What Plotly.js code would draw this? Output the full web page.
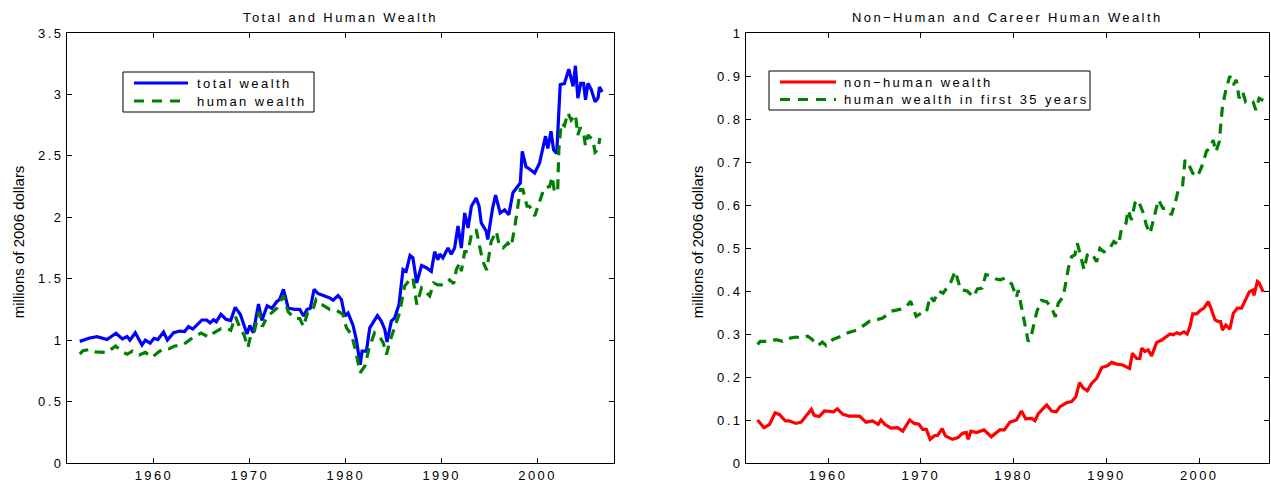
<!DOCTYPE html>
<html>
<head>
<meta charset="utf-8">
<script src="https://cdn.plot.ly/plotly-3.0.1.min.js"></script>
<style>
  html, body { margin: 0; padding: 0; background: #fff; }
  #chart { width: 1271px; height: 483px; }
  svg text { letter-spacing: 2.4px; }
  svg text.nospace { letter-spacing: 0px; }
</style>
</head>
<body>
<div id="chart"></div>
<script>
// ---- Left panel: total wealth ----
const totalYears = [1952.26,1953.2,1954.06,1955.1,1956.04,1956.7,1957.2,1957.5,1958.05,1958.75,
1959.1,1959.6,1960.0,1960.4,1961.0,1961.4,1962.05,1962.7,1963.2,1963.6,
1964.05,1965.0,1965.5,1965.85,1966.2,1966.5,1966.98,1967.5,1968.0,1968.47,
1969.0,1969.35,1969.7,1970.0,1970.35,1970.9,1971.25,1971.8,1972.3,1972.8,
1973.1,1973.5,1974.0,1974.7,1975.2,1975.6,1975.95,1976.3,1976.7,1977.1,1977.7,
1978.33,1978.68,1979.2,1979.55,1979.9,1980.24,1980.76,1981.1,1981.5,1981.7,
1982.15,1982.5,1982.85,1983.3,1983.7,1984.06,1984.3,1984.75,1985.1,1985.55,
1985.97,1986.3,1986.7,1987.0,1987.4,1987.9,1988.4,1988.92,1989.27,1989.6,
1989.8,1990.13,1990.66,1991.0,1991.35,1991.7,1992.05,1992.4,1992.75,1993.1,
1993.6,1993.9,1994.13,1994.65,1994.8,1995.3,1995.62,1996.1,1996.56,1997.0,
1997.43,1997.85,1998.2,1998.4,1998.8,1999.16,1999.7,2000.2,2000.83,2001.07,
2001.4,2001.67,2002.0,2002.36,2002.8,2003.26,2003.7,2003.95,2004.2,2004.5,
2004.8,2005.0,2005.25,2005.6,2006.0,2006.3,2006.46,2006.74];
const totalWealth = [0.99,1.015,1.028,1.005,1.056,1.01,1.03,1.0,1.06,0.96,
1.0,0.975,1.015,1.005,1.066,1.0,1.06,1.074,1.07,1.11,
1.09,1.164,1.164,1.14,1.165,1.15,1.21,1.17,1.16,1.267,
1.21,1.137,1.05,1.12,1.06,1.294,1.16,1.28,1.26,1.313,
1.33,1.414,1.26,1.25,1.25,1.196,1.25,1.26,1.414,1.38,1.36,
1.344,1.325,1.363,1.33,1.195,1.22,1.12,1.005,0.80,0.91,
0.91,1.10,1.14,1.20,1.155,1.09,0.985,1.155,1.18,1.29,
1.575,1.56,1.69,1.67,1.466,1.607,1.59,1.56,1.72,1.655,
1.70,1.67,1.75,1.70,1.75,1.93,1.75,2.035,1.913,2.09,
2.157,2.09,1.954,1.886,1.82,2.07,2.18,2.035,2.06,2.02,
2.20,2.25,2.28,2.537,2.41,2.393,2.36,2.44,2.66,2.56,
2.70,2.55,2.52,3.08,3.09,3.206,3.065,3.233,2.97,3.09,
3.09,2.957,3.09,3.04,2.94,2.97,3.06,3.02];

// ---- Left panel: human wealth ----
const humanYears = [1952.26,1952.6,1953.35,1953.9,1955.1,1956.0,1956.7,1957.2,1957.75,1958.45,
1959.1,1959.8,1960.5,1961.0,1961.6,1962.1,1963.1,1964.0,1964.9,1965.7,
1966.2,1967.0,1967.6,1968.0,1968.5,1969.0,1969.4,1969.8,1970.1,1970.4,
1970.95,1971.3,1971.8,1972.8,1973.5,1974.0,1974.7,1975.2,1975.6,1976.0,
1976.5,1976.9,1977.3,1977.85,
1978.33,1979.0,1979.7,1980.07,1980.6,1981.04,1981.5,1982.0,1982.4,1983.0,
1983.5,1983.9,1984.24,1984.6,1985.3,1985.6,1986.14,1986.66,1987.0,1987.4,
1987.9,1988.75,1989.17,1989.6,1990.3,1990.83,1991.25,1991.53,1991.9,1992.05,
1992.4,1992.75,1993.1,1993.6,1993.96,1994.3,1994.7,1995.17,1995.7,1996.04,
1996.4,1996.9,1997.25,1997.6,1998.2,1998.47,1998.9,1999.16,1999.7,2000.2,
2000.7,2001.25,2001.53,2001.77,2002.1,2002.22,2002.46,2002.8,2003.16,2003.5,
2003.95,2004.2,2004.45,2004.8,2005.0,2005.25,2005.76,2006.0,2006.3,2006.5];
const humanWealth = [0.887,0.914,0.925,0.905,0.90,0.952,0.905,0.885,0.91,0.88,
0.90,0.86,0.905,0.93,0.93,0.95,0.966,1.018,1.058,1.025,
1.058,1.094,1.094,1.08,1.19,1.094,1.04,0.94,1.04,1.05,
1.23,1.11,1.19,1.26,1.36,1.23,1.176,1.176,1.11,1.22,
1.23,1.33,1.30,1.27,
1.25,1.244,1.21,1.10,1.046,0.91,0.735,0.79,0.924,1.06,
1.03,0.98,0.883,0.99,1.14,1.22,1.44,1.49,1.51,1.29,
1.425,1.36,1.466,1.45,1.45,1.49,1.46,1.575,1.63,1.56,
1.72,1.72,1.86,1.90,1.76,1.64,1.57,1.805,1.886,1.76,
1.75,1.79,1.76,1.91,2.225,2.225,2.09,2.09,2.01,2.12,
2.24,2.25,2.33,2.20,2.225,2.55,2.767,2.745,2.85,2.79,
2.835,2.67,2.73,2.685,2.58,2.67,2.63,2.53,2.55,2.645];

// ---- Right panel: non-human wealth ----
const nonHumanYears = [1952.4,1953.1,1953.7,1954.3,1954.75,1955.4,1955.8,1956.55,1957.1,1957.6,
1958.2,1958.5,1959.06,1959.6,1960.14,1960.6,1961.0,1961.6,1962.3,1963.4,
1964.1,1964.8,1965.4,1965.7,1966.1,1966.8,1967.5,1968.05,1968.8,1969.3,
1969.8,1970.2,1970.6,1971.0,1971.5,1971.8,1972.3,1972.65,1973.4,1974.0,
1974.5,1974.9,1975.1,1975.4,1976.0,1976.8,1977.6,1978.5,1979.0,1979.6,
1980.3,1980.85,1981.3,
1981.94,1982.3,1982.66,1983.56,1984.1,1984.6,1985.0,1985.7,1986.25,1986.7,
1987.1,1987.5,1987.94,1988.4,1988.95,1989.5,1990.1,1990.56,1991.1,1991.75,
1992.2,1992.5,1992.8,1993.25,1993.6,1993.8,1994.15,1994.5,1994.87,1995.4,
1995.95,1996.5,1996.85,1997.2,1997.57,1997.93,1998.36,1998.7,1999.0,1999.3,
1999.73,2000.08,2000.5,2000.97,2001.2,2001.7,2002.05,2002.3,2002.5,2002.87,
2003.3,2003.67,2004.1,2004.56,2005.0,2005.4,2005.75,2005.9,2006.27,2006.45,2006.9];
const nonHumanWealth = [0.10,0.082,0.09,0.117,0.113,0.098,0.098,0.092,0.095,0.109,
0.125,0.111,0.108,0.121,0.119,0.119,0.126,0.113,0.109,0.109,
0.095,0.098,0.09,0.10,0.09,0.081,0.082,0.074,0.10,0.092,
0.09,0.078,0.078,0.055,0.064,0.064,0.08,0.063,0.055,0.059,
0.069,0.071,0.055,0.074,0.071,0.077,0.061,0.077,0.077,0.095,
0.10,0.121,0.103,
0.104,0.098,0.115,0.135,0.121,0.119,0.131,0.14,0.143,0.154,
0.187,0.174,0.168,0.185,0.197,0.222,0.226,0.234,0.23,0.228,
0.222,0.22,0.255,0.243,0.243,0.267,0.259,0.263,0.249,0.28,
0.286,0.294,0.30,0.298,0.303,0.30,0.305,0.30,0.317,0.347,
0.347,0.354,0.36,0.375,0.364,0.333,0.329,0.329,0.309,0.321,
0.311,0.348,0.36,0.36,0.379,0.398,0.402,0.39,0.422,0.419,0.398];

// ---- Right panel: human wealth in first 35 years ----
const careerYears = [1952.4,1952.7,1953.7,1954.4,1955.1,1955.6,1956.55,1957.1,1957.8,1958.2,
1958.9,1959.4,1959.8,1960.5,1961.2,1961.9,1963.2,1964.5,1965.4,1965.9,
1966.8,1967.9,1968.45,1968.9,1969.5,1970.1,1970.6,1971.0,1971.4,1971.9,
1972.4,1973.2,1973.7,1974.3,1975.0,1975.65,1976.1,1976.6,1977.0,1977.5,1978.1,
1978.53,1979.07,1979.8,1980.3,1980.5,1980.87,1981.2,1981.58,1981.94,1982.5,
1983.0,1983.56,1984.1,1984.5,1984.8,1985.35,1985.9,1986.25,1986.6,1986.86,
1987.15,1987.58,1987.94,1988.4,1988.95,1989.3,1989.74,1990.3,1990.8,1991.3,
1991.6,1992.1,1992.35,1992.7,1993.07,1993.4,1994.0,1994.3,1994.7,1995.1,
1995.6,1996.1,1996.5,1997.0,1997.4,1997.75,1998.2,1998.47,1998.93,1999.3,
1999.8,2000.27,2000.8,2001.2,2001.5,2001.8,2002.16,2002.5,2002.87,2003.3,
2003.67,2004.0,2004.3,2004.67,2005.0,2005.4,2005.8,2006.1,2006.45,2006.9];
const careerWealth = [0.276,0.283,0.283,0.287,0.283,0.289,0.293,0.291,0.295,0.289,
0.273,0.281,0.273,0.287,0.293,0.301,0.31,0.33,0.334,0.337,
0.353,0.358,0.364,0.376,0.341,0.349,0.35,0.388,0.376,0.40,
0.395,0.419,0.446,0.403,0.40,0.386,0.405,0.407,0.438,0.436,0.428,
0.426,0.43,0.416,0.385,0.402,0.36,0.325,0.282,0.30,0.352,
0.378,0.375,0.36,0.34,0.371,0.387,0.453,0.48,0.484,0.511,
0.488,0.45,0.484,0.488,0.468,0.499,0.491,0.497,0.515,0.507,
0.542,0.557,0.588,0.565,0.604,0.612,0.58,0.553,0.534,0.569,
0.612,0.592,0.592,0.577,0.604,0.635,0.643,0.705,0.691,0.674,
0.666,0.689,0.726,0.732,0.751,0.724,0.747,0.829,0.867,0.90,
0.879,0.891,0.848,0.864,0.84,0.844,0.84,0.821,0.848,0.843];

const titles = ['Total and Human Wealth', 'Non\u2212Human and Career Human Wealth'];
const yLabel = 'millions of 2006 dollars';
const seriesNames = ['total wealth', 'human wealth', 'non\u2212human wealth', 'human wealth in first 35 years'];
const seriesColors = ['#0000ff', '#008000', '#ff0000', '#008000'];
const seriesDash = ['solid', '10px,7px', 'solid', '10px,7px'];

const W = 1271, H = 483;
const px = v => v / W, py = v => 1 - v / H;
const LW = 3.2;

const traces = [
  {x: totalYears, y: totalWealth, name: seriesNames[0], type: 'scatter', mode: 'lines',
   line: {color: seriesColors[0], width: LW, dash: seriesDash[0]}, xaxis: 'x', yaxis: 'y'},
  {x: humanYears, y: humanWealth, name: seriesNames[1], type: 'scatter', mode: 'lines',
   line: {color: seriesColors[1], width: LW, dash: seriesDash[1]}, xaxis: 'x', yaxis: 'y'},
  {x: nonHumanYears, y: nonHumanWealth, name: seriesNames[2], type: 'scatter', mode: 'lines',
   line: {color: seriesColors[2], width: LW, dash: seriesDash[2]}, xaxis: 'x2', yaxis: 'y2'},
  {x: careerYears, y: careerWealth, name: seriesNames[3], type: 'scatter', mode: 'lines',
   line: {color: seriesColors[3], width: LW, dash: seriesDash[3]}, xaxis: 'x2', yaxis: 'y2'}
];

const axisCommon = {
  showline: true, mirror: 'ticks', linecolor: '#000', linewidth: 1,
  ticks: 'inside', ticklen: 5, tickcolor: '#000', tickwidth: 1,
  showgrid: false, zeroline: false, fixedrange: true,
  tickfont: {size: 13, color: '#000'}
};

// manual legend boxes (MATLAB style): box, sample lines, labels
const legends = [
  {box: [123, 72, 314, 112], line: [134, 188], rows: [83, 101], textX: 195, items: [0, 1]},
  {box: [769, 71, 1090, 110], line: [780, 836], rows: [82, 99.5], textX: 842, items: [2, 3]}
];
const shapes = [];
const annotations = [
  {text: titles[0], xref: 'paper', yref: 'paper', x: px(340.5), y: py(18), xanchor: 'center', yanchor: 'middle',
   showarrow: false, font: {size: 13, color: '#000'}},
  {text: titles[1], xref: 'paper', yref: 'paper', x: px(1007.5), y: py(18), xanchor: 'center', yanchor: 'middle',
   showarrow: false, font: {size: 13, color: '#000'}},
  {text: yLabel, xref: 'paper', yref: 'paper', x: px(18), y: py(242), xanchor: 'center', yanchor: 'middle',
   textangle: -90, showarrow: false, font: {family: 'Liberation Sans Narrow, Liberation Sans, Arial', size: 15, color: '#000'}},
  {text: yLabel, xref: 'paper', yref: 'paper', x: px(697), y: py(242), xanchor: 'center', yanchor: 'middle',
   textangle: -90, showarrow: false, font: {family: 'Liberation Sans Narrow, Liberation Sans, Arial', size: 15, color: '#000'}}
];
legends.forEach(lg => {
  shapes.push({type: 'rect', xref: 'paper', yref: 'paper', layer: 'above',
    x0: px(lg.box[0]), x1: px(lg.box[2]), y0: py(lg.box[3]), y1: py(lg.box[1]),
    line: {color: '#000', width: 1}, fillcolor: '#fff'});
  lg.items.forEach((idx, k) => {
    shapes.push({type: 'line', xref: 'paper', yref: 'paper', layer: 'above',
      x0: px(lg.line[0]), x1: px(lg.line[1]), y0: py(lg.rows[k]), y1: py(lg.rows[k]),
      line: {color: seriesColors[idx], width: LW, dash: seriesDash[idx] === 'solid' ? 'solid' : '10px,8px'}});
    annotations.push({text: seriesNames[idx], xref: 'paper', yref: 'paper', x: px(lg.textX), y: py(lg.rows[k]),
      xanchor: 'left', yanchor: 'middle', showarrow: false, font: {size: 13, color: '#000'}});
  });
});

const layout = {
  width: W, height: H,
  margin: {l: 0, r: 0, t: 0, b: 0},
  paper_bgcolor: '#fff', plot_bgcolor: '#fff',
  font: {family: 'Liberation Sans, Arial, sans-serif', size: 12, color: '#000'},
  showlegend: false,
  xaxis: Object.assign({}, axisCommon, {domain: [px(67), px(614)], range: [1950.93, 2007.97],
    tickvals: [1960, 1970, 1980, 1990, 2000], anchor: 'y'}),
  yaxis: Object.assign({}, axisCommon, {domain: [py(463), py(33)], range: [0, 3.5], dtick: 0.5, anchor: 'x'}),
  xaxis2: Object.assign({}, axisCommon, {domain: [px(746), px(1269)], range: [1951.16, 2007.52],
    tickvals: [1960, 1970, 1980, 1990, 2000], anchor: 'y2'}),
  yaxis2: Object.assign({}, axisCommon, {domain: [py(463), py(33)], range: [0, 1], dtick: 0.1, anchor: 'x2'}),
  shapes: shapes,
  annotations: annotations
};

Plotly.newPlot('chart', traces, layout, {displayModeBar: false, staticPlot: true}).then(() => {
  document.querySelectorAll('.annotation-text').forEach(el => {
    if (el.textContent === yLabel) el.classList.add('nospace');
  });
});
</script>
</body>
</html>
